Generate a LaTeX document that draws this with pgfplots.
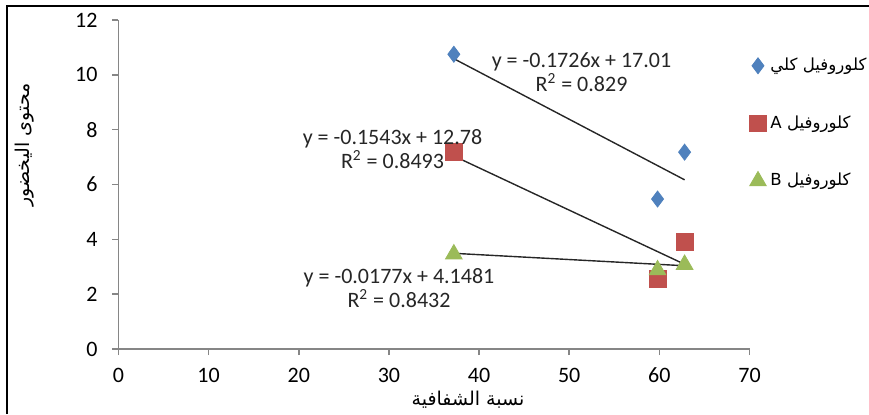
\documentclass[border=0pt]{standalone}
\usepackage{fontspec}
\setmainfont{Carlito}
\newfontfamily\arabicfont[Script=Arabic]{DejaVu Sans}
\TeXXeTstate=1
\usepackage{pgfplots}
\pgfplotsset{compat=1.18}
\definecolor{cTot}{HTML}{4F81BD}
\definecolor{cA}{HTML}{C0504D}
\definecolor{cB}{HTML}{9BBB59}
\definecolor{axgray}{HTML}{868686}
\begin{document}
\begin{tikzpicture}
\path[use as bounding box] (-59.25pt,-32.5pt) rectangle (375.25pt,174.5pt);
\begin{axis}[
  at={(0pt,0pt)}, anchor=south west,
  scale only axis, width=315.5pt, height=164.5pt,
  xmin=0, xmax=70, ymin=0, ymax=12,
  xtick={0,10,...,70}, ytick={0,2,...,12},
  axis lines=left,
  axis line style={-, draw=axgray, line width=0.8pt},
  tick style={draw=axgray, line width=0.8pt},
  tick align=outside, major tick length=3pt,
  /pgf/number format/assume math mode=true,
  ticklabel style={font=\fontsize{11}{13}\selectfont},
  yticklabel style={xshift=-4pt},
  xticklabel style={yshift=-3pt},
  legend style={at={(0.99,0.91)}, anchor=north west, draw=none, fill=none,
    font=\arabicfont\fontsize{8.3}{10}\selectfont, row sep=17pt,
    legend cell align=left},
  clip=false,
]
\addplot[only marks, mark=diamond*, mark size=4pt, color=cTot] coordinates {(37.2,10.75) (59.8,5.47) (62.8,7.18)};
\addlegendentry{\beginR كلوروفيل كلي\endR}
\addplot[only marks, mark=square*, mark size=4.2pt, color=cA] coordinates {(37.2,7.18) (59.8,2.55) (62.8,3.9)};
\addlegendentry{\beginR كلوروفيل A\endR}
\addplot[only marks, mark=triangle*, mark size=4.8pt, color=cB] coordinates {(37.2,3.46) (59.8,2.88) (62.8,3.08)};
\addlegendentry{\beginR كلوروفيل B\endR}
\addplot[black!85, line width=0.7pt, forget plot] coordinates {(37.2,10.589) (62.8,6.171)};
\addplot[black!85, line width=0.7pt, forget plot] coordinates {(37.2,7.04) (62.8,3.09)};
\addplot[black!85, line width=0.7pt, forget plot] coordinates {(37.2,3.490) (62.8,3.0365)};
\end{axis}
\node[align=center, font=\fontsize{11}{12}\selectfont, text=black!85] at (231.5pt,138.5pt) {y = -0.1726x + 17.01\\R\textsuperscript{2} = 0.829};
\node[align=center, font=\fontsize{11}{12}\selectfont, text=black!85] at (137pt,100pt) {y = -0.1543x + 12.78\\R\textsuperscript{2} = 0.8493};
\node[align=center, font=\fontsize{11}{12}\selectfont, text=black!85] at (140.25pt,30.5pt) {y = -0.0177x + 4.1481\\R\textsuperscript{2} = 0.8432};
\node[rotate=90, font=\arabicfont\fontsize{9.5}{11}\selectfont] at (-46.75pt,102pt) {\beginR محتوى اليخضور\endR};
\node[font=\arabicfont\fontsize{9.5}{11}\selectfont] at (174.75pt,-25.5pt) {\beginR نسبة الشفافية\endR};
\draw[line width=1.3pt] (-55.75pt,-32.5pt) -- (-55.75pt,171.5pt) -- (375.25pt,171.5pt);
\end{tikzpicture}
\end{document}
